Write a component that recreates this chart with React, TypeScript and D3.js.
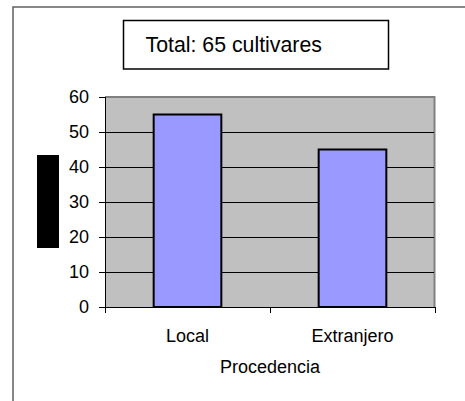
import React from "react";
import * as d3 from "d3";

const categories = ["Local", "Extranjero"];
const values = [55, 45];
const yTicks = [0, 10, 20, 30, 40, 50, 60];
const title = "Total: 65 cultivares";
const xTitle = "Procedencia";

const W = 465;
const H = 401;
const plot = { left: 105, right: 435, top: 97, bottom: 307 };
const FONT = "'Liberation Sans', Arial, sans-serif";

export default function App() {
  const y = d3.scaleLinear().domain([0, 60]).range([plot.bottom, plot.top]);
  const x = d3
    .scaleBand<string>()
    .domain(categories)
    .range([plot.left, plot.right])
    .paddingInner(0.59)
    .paddingOuter(0.295);
  const step = x.step();
  const xTickPos = [plot.left, ...categories.map((c, i) => plot.left + step * (i + 1))];

  return (
    <svg
      width={W}
      height={H}
      style={{ position: "absolute", left: 0, top: 0, background: "#fff" }}
      fontFamily={FONT}
    >
      {/* outer chart frame */}
      <rect x={13} y={7} width={W + 10} height={H + 10} fill="#fff" stroke="#606060" strokeWidth={1.5} />

      {/* title box */}
      <rect x={123.5} y={20.5} width={265} height={48.5} fill="#fff" stroke="#000" strokeWidth={1.5} />
      <text x={145.5} y={51.5} fontSize={21.3} fill="#000">
        {title}
      </text>

      {/* plot area */}
      <rect
        x={plot.left}
        y={plot.top}
        width={plot.right - plot.left}
        height={plot.bottom - plot.top}
        fill="#c0c0c0"
      />
      <path
        d={`M${plot.left},${plot.top} H${plot.right - 0.5} V${plot.bottom}`}
        fill="none"
        stroke="#808080"
        strokeWidth={2}
      />

      {/* gridlines */}
      {yTicks
        .filter((t) => t !== 0 && t !== 60)
        .map((t) => (
          <line
            key={t}
            x1={plot.left}
            x2={plot.right - 1}
            y1={Math.round(y(t)) + 0.5}
            y2={Math.round(y(t)) + 0.5}
            stroke="#000"
            strokeWidth={1}
          />
        ))}

      {/* bars */}
      {categories.map((c, i) => (
        <rect
          key={c}
          x={x(c)}
          y={y(values[i])}
          width={x.bandwidth()}
          height={y(0) - y(values[i])}
          fill="#9999ff"
          stroke="#000"
          strokeWidth={2}
        />
      ))}

      {/* y axis */}
      <line x1={plot.left + 0.5} x2={plot.left + 0.5} y1={plot.top} y2={plot.bottom + 6} stroke="#000" strokeWidth={1} />
      {yTicks.map((t) => (
        <g key={t}>
          <line
            x1={99}
            x2={plot.left}
            y1={Math.round(y(t)) + 0.5}
            y2={Math.round(y(t)) + 0.5}
            stroke="#000"
            strokeWidth={1}
          />
          <text x={89} y={y(t) + 6} fontSize={18} textAnchor="end" fill="#000">
            {t}
          </text>
        </g>
      ))}

      {/* x axis */}
      <line x1={plot.left} x2={plot.right} y1={plot.bottom + 0.5} y2={plot.bottom + 0.5} stroke="#000" strokeWidth={1} />
      {xTickPos.map((p, i) => (
        <line
          key={i}
          x1={Math.round(p) + 0.5}
          x2={Math.round(p) + 0.5}
          y1={plot.bottom}
          y2={plot.bottom + 6}
          stroke="#000"
          strokeWidth={1}
        />
      ))}
      {categories.map((c) => (
        <text
          key={c}
          x={(x(c) as number) + x.bandwidth() / 2}
          y={341.5}
          fontSize={18}
          textAnchor="middle"
          fill="#000"
        >
          {c}
        </text>
      ))}
      <text x={(plot.left + plot.right) / 2} y={373} fontSize={18} textAnchor="middle" fill="#000">
        {xTitle}
      </text>

      {/* redaction block over y-axis title */}
      <rect x={37} y={155} width={22} height={93} fill="#000" />
    </svg>
  );
}
